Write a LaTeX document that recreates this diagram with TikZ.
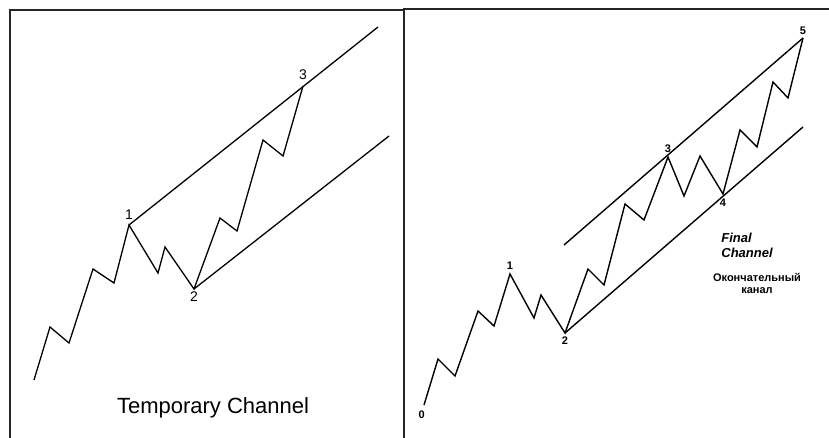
\documentclass[tikz,border=0pt]{standalone}
\usepackage{fontspec}
\setmainfont{Liberation Sans}
\usepackage{tikz}
\usetikzlibrary{positioning}

\begin{document}
\begin{tikzpicture}[
      x=1pt, y=-1pt,
      frame/.style={line width=1.6pt, draw=black!85},
      wave/.style={line width=1.3pt, line join=miter},
      bwave/.style={line width=1.4pt, line join=miter},
      tlabel/.style={inner sep=0pt, font=\fontsize{14}{14}\selectfont},
      blabel/.style={inner sep=0pt, font=\bfseries\fontsize{11}{11}\selectfont},
      ]
      \useasboundingbox (0,0) rectangle (829,438);

      % frames
      \draw[frame] (10,438) -- (10,10) -- (404,10);
      \draw[frame] (404,438) -- (404,9) -- (829,9);

      % temporary channel (left)
      \foreach \n/\x/\y in {%
        a0/34/380, a1/50/327, a2/69/343, a3/93/269, a4/114/283,
        p1/129/225, a6/158/273, a7/165/247, p2/194/289, a9/220/218,
        a10/237/231, a11/263/140, a12/283/156, p3/303/86,
        ltop/378/27, lbot/389/136}
        \coordinate (\n) at (\x,\y);

      \draw[wave] (a0) -- (a1) -- (a2) -- (a3) -- (a4) -- (p1) -- (a6)
        -- (a7) -- (p2) -- (a9) -- (a10) -- (a11) -- (a12) -- (p3);
      \draw[wave] (p1) -- (ltop);
      \draw[wave] (p2) -- (lbot);

      \node[tlabel, above=5pt of p1] (t1) {1};
      \node[tlabel, below=3pt of p2] (t2) {2};
      \node[tlabel, above=6pt of p3] (t3) {3};
      \node[font=\fontsize{22}{22}\selectfont] (ttl) at (213,408) {Temporary Channel};

      % final channel (right)
      \foreach \n/\x/\y in {%
        b0/424/405, b1/438/359, b2/455/376, b3/478/311, b4/494/326,
        q1/510/274, b6/534/318, b7/541/295, q2/565/333, b9/588/269,
        b10/604/285, b11/625/204, b12/644/220, q3/668/157, b14/684/196,
        b15/700/156, q4/723/194, b17/740/130, b18/757/147, b19/773/82,
        b20/788/98, q5/803/38, rtop/564/245, rbot/803/127}
        \coordinate (\n) at (\x,\y);

      \draw[bwave] (b0) -- (b1) -- (b2) -- (b3) -- (b4) -- (q1) -- (b6)
        -- (b7) -- (q2) -- (b9) -- (b10) -- (b11) -- (b12) -- (q3)
        -- (b14) -- (b15) -- (q4) -- (b17) -- (b18) -- (b19) -- (b20) -- (q5);
      \draw[bwave] (rtop) -- (q5);
      \draw[bwave] (q2) -- (rbot);

      \node[blabel, below left=6pt and -1pt of b0] (r0) {0};
      \node[blabel, above=4pt of q1] (r1) {1};
      \node[blabel, below=4pt of q2] (r2) {2};
      \node[blabel, above=4pt of q3] (r3) {3};
      \node[blabel, below=5pt of q4] (r4) {4};
      \node[blabel, above=3pt of q5] (r5) {5};

      \node[align=left, font=\bfseries\itshape\fontsize{13}{15}\selectfont] (fin) at (747,245) {Final\\Channel};
      \node[align=center, font=\bfseries\fontsize{11}{12}\selectfont] (rus) at (757,283) {Окончательный\\канал};
    \end{tikzpicture}
\end{document}
